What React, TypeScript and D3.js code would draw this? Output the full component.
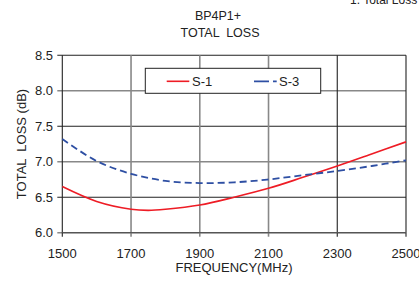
import React from "react";
import * as d3 from "d3";

const freqs = [1500, 1600, 1700, 1750, 1800, 1900, 2000, 2100, 2200, 2300, 2400, 2500];
const s1 = [6.65, 6.44, 6.33, 6.315, 6.33, 6.39, 6.5, 6.625, 6.78, 6.94, 7.11, 7.28];
const freqs3 = [1500, 1600, 1700, 1800, 1900, 2000, 2100, 2200, 2300, 2400, 2500];
const s3 = [7.32, 7.01, 6.83, 6.73, 6.70, 6.71, 6.75, 6.81, 6.87, 6.94, 7.02];
const xTicks = [1500, 1700, 1900, 2100, 2300, 2500];
const yTicks = [6.0, 6.5, 7.0, 7.5, 8.0, 8.5];
const seriesNames = ["S-1", "S-3"];

const W = 419, H = 283;
const L = 62.3, R = 406, T = 55.3, B = 232.7;
const font = "'Liberation Sans', Arial, sans-serif";

export default function App() {
  const x = d3.scaleLinear().domain([1500, 2500]).range([L, R]);
  const y = d3.scaleLinear().domain([6.0, 8.5]).range([B, T]);
  const line = d3.line<[number, number]>().x(d => x(d[0])).y(d => y(d[1])).curve(d3.curveCatmullRom.alpha(0.5));
  const p1 = line(freqs.map((f, i) => [f, s1[i]] as [number, number])) || "";
  const p3 = line(freqs3.map((f, i) => [f, s3[i]] as [number, number])) || "";
  const grayY = new Set([6.0, 7.0, 8.0]);
  const grayX = new Set([1700, 1900, 2100]);
  return (
    <svg width={W} height={H} style={{ position: "absolute", left: 0, top: 0, display: "block" }} fontFamily={font}>
      <rect width={W} height={H} fill="#fff" />
      <text x={350} y={4} fontSize={12} fill="#222">1. Total Loss</text>
      <text x={218} y={20} fontSize={12.5} textAnchor="middle" fill="#222">BP4P1+</text>
      <text x={220} y={37} fontSize={12.5} textAnchor="middle" fill="#222" style={{ whiteSpace: "pre" }}>TOTAL  LOSS</text>
      {yTicks.map(t => (
        <g key={"y" + t}>
          <line x1={L - 5} x2={R} y1={y(t)} y2={y(t)}
            stroke={grayY.has(t) ? "#888" : "#222"} strokeWidth={grayY.has(t) ? 1.6 : 1.1} />
          <text x={53} y={y(t) + 4.5} fontSize={13} textAnchor="end" fill="#222">{t.toFixed(1)}</text>
        </g>
      ))}
      {xTicks.map(t => (
        <g key={"x" + t}>
          <line x1={x(t)} x2={x(t)} y1={T} y2={B + 4}
            stroke={grayX.has(t) ? "#888" : "#222"} strokeWidth={grayX.has(t) ? 1.6 : 1.1} />
          <text x={x(t)} y={257.5} fontSize={13} textAnchor="middle" fill="#222">{t}</text>
        </g>
      ))}
      <line x1={L} x2={R} y1={B} y2={B} stroke="#555" strokeWidth={1.2} />
      <path d={p1} fill="none" stroke="#ee1c25" strokeWidth={1.6} />
      <path d={p3} fill="none" stroke="#2e4fa3" strokeWidth={1.8} strokeDasharray="7,4" />
      <text x={234} y={272} fontSize={13} textAnchor="middle" fill="#222">FREQUENCY(MHz)</text>
      <text transform={`translate(26,144) rotate(-90)`} fontSize={13} textAnchor="middle" fill="#222" style={{ whiteSpace: "pre" }}>TOTAL  LOSS (dB)</text>
      <rect x={145.3} y={68.3} width={175.4} height={25} fill="#fff" stroke="#222" strokeWidth={1} />
      <line x1={166.7} x2={189.3} y1={81.3} y2={81.3} stroke="#ee1c25" strokeWidth={1.6} />
      <text x={192} y={86} fontSize={13} fill="#222">{seriesNames[0]}</text>
      <line x1={254} x2={276.7} y1={81.3} y2={81.3} stroke="#2e4fa3" strokeWidth={1.8} strokeDasharray="15,4" />
      <text x={279} y={86} fontSize={13} fill="#222">{seriesNames[1]}</text>
    </svg>
  );
}
